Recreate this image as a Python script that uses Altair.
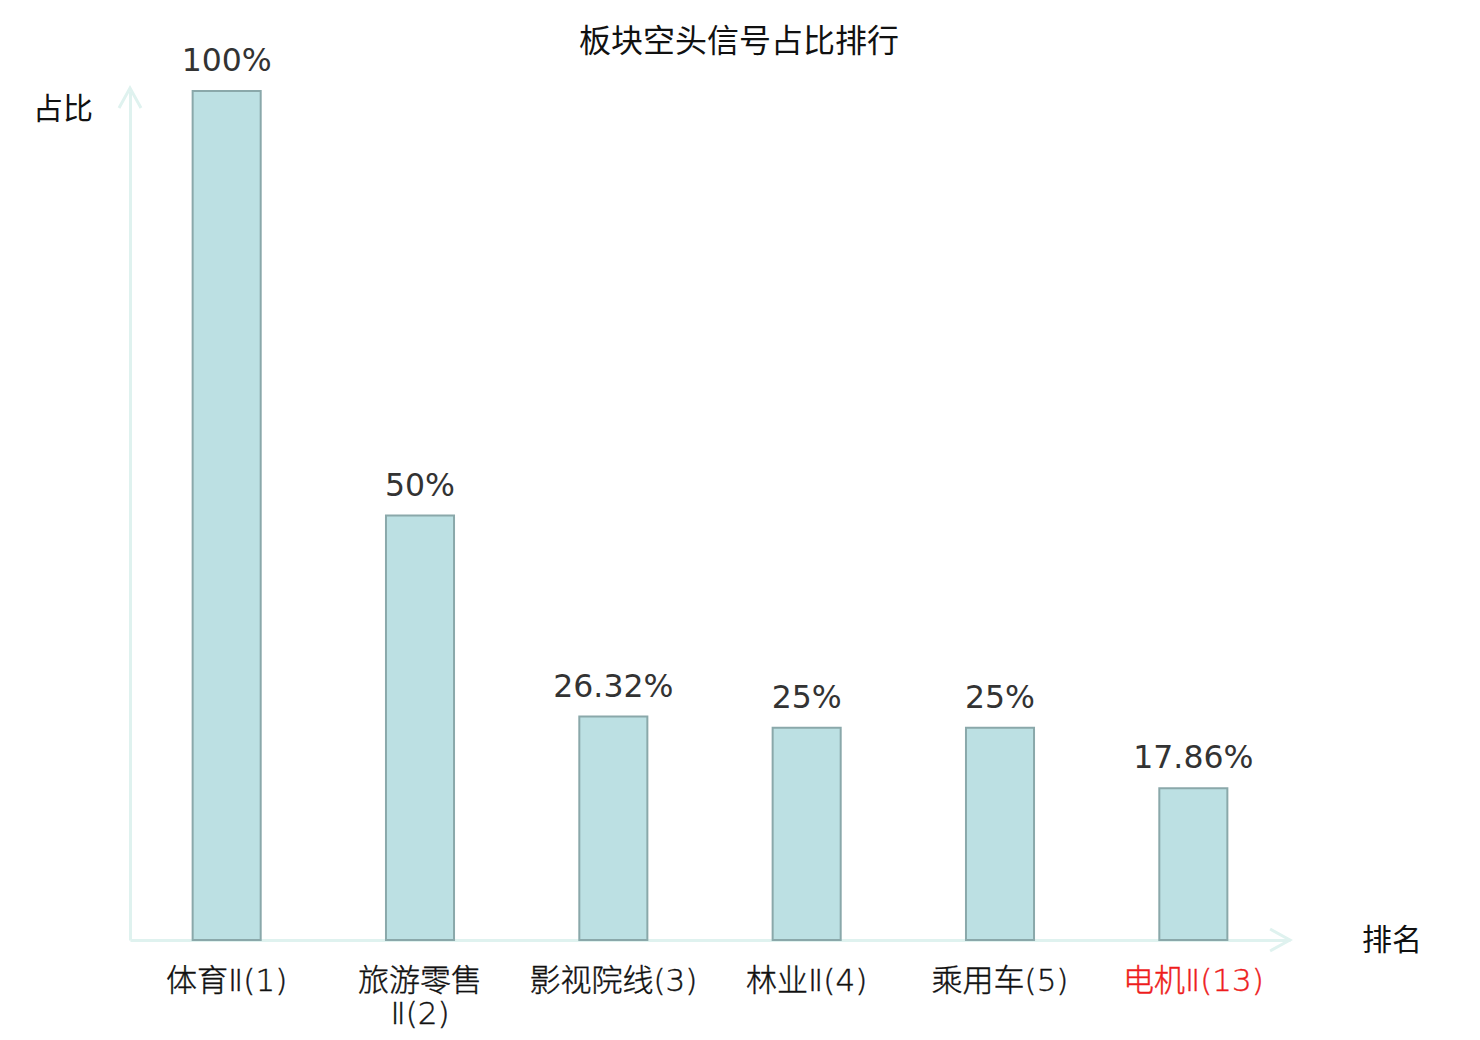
import altair as alt
import pandas as pd

categories = ["体育Ⅱ(1)", "旅游零售\nⅡ(2)", "影视院线(3)", "林业Ⅱ(4)", "乘用车(5)", "电机Ⅱ(13)"]
values = [100, 50, 26.32, 25, 25, 17.86]
value_labels = ["100%", "50%", "26.32%", "25%", "25%", "17.86%"]
highlight = "电机Ⅱ(13)"
title_text = "板块空头信号占比排行"
y_title = "占比"
x_title = "排名"

df = pd.DataFrame({"cat": categories, "value": values, "label": value_labels})

W, H = 1160, 849
AXIS_COLOR = "#dff2ef"
CJK = "Noto Sans CJK SC"

x_enc = alt.X("cat:N", sort=categories,
              scale=alt.Scale(paddingInner=0.648, paddingOuter=0.324),
              axis=alt.Axis(title=None, labels=False, ticks=False, domainColor=AXIS_COLOR,
                            domainWidth=3, grid=False))
y_enc = alt.Y("value:Q", scale=alt.Scale(domain=[0, 100], nice=False, zero=True),
              axis=alt.Axis(title=None, labels=False, ticks=False, domainColor=AXIS_COLOR,
                            domainWidth=3, grid=False))

base = alt.Chart(df)

bars = base.mark_bar(fill="#bce0e3", stroke="#8aa8aa", strokeWidth=2).encode(x=x_enc, y=y_enc)

vals = base.mark_text(baseline="bottom", dy=-13, fontSize=31.5, font="DejaVu Sans",
                      color="#333333").encode(
    x=alt.X("cat:N", sort=categories), y="value:Q", text="label:N")

label_color = alt.condition(alt.datum.cat == highlight, alt.value("#ee1c1c"), alt.value("#111111"))
xlabels = base.mark_text(baseline="top", fontSize=31, font="DejaVu Sans, Noto Sans CJK SC",
                         fontWeight=200, lineBreak="\n", lineHeight=33, strokeWidth=0.4).encode(
    x=alt.X("cat:N", sort=categories),
    y=alt.value(H + 27),
    text="cat:N",
    color=label_color,
    stroke=label_color,
)

one = alt.Data(values=[{"a": 1}])

title = alt.Chart(one).mark_text(fontSize=32, font=CJK, color="#111111").encode(
    x=alt.value(609), y=alt.value(-49), text=alt.value(title_text))
ytitle = alt.Chart(one).mark_text(fontSize=30, font=CJK, color="#111111").encode(
    x=alt.value(-67), y=alt.value(19), text=alt.value(y_title))
xtitle = alt.Chart(one).mark_text(fontSize=30, font=CJK, color="#111111").encode(
    x=alt.value(1262), y=alt.value(850), text=alt.value(x_title))

up_arrow = alt.Chart(one).mark_point(shape="M-1,0.9L0,-0.9L1,0.9", filled=False,
                                     stroke=AXIS_COLOR, strokeWidth=3, size=484, opacity=1).encode(
    x=alt.value(0), y=alt.value(7))
right_arrow = alt.Chart(one).mark_point(shape="M-0.9,-1L0.9,0L-0.9,1", filled=False,
                                        stroke=AXIS_COLOR, strokeWidth=3, size=484, opacity=1).encode(
    x=alt.value(W - 10), y=alt.value(H))

chart = alt.layer(bars, vals, xlabels, title, ytitle, xtitle, up_arrow, right_arrow).properties(
    width=W, height=H,
    autosize=alt.AutoSizeParams(type="none"),
    padding={"left": 122, "top": 83, "right": 170, "bottom": 100},
).configure_view(stroke=None)

chart.save("out.html", embed_options={"renderer": "svg", "actions": False})
